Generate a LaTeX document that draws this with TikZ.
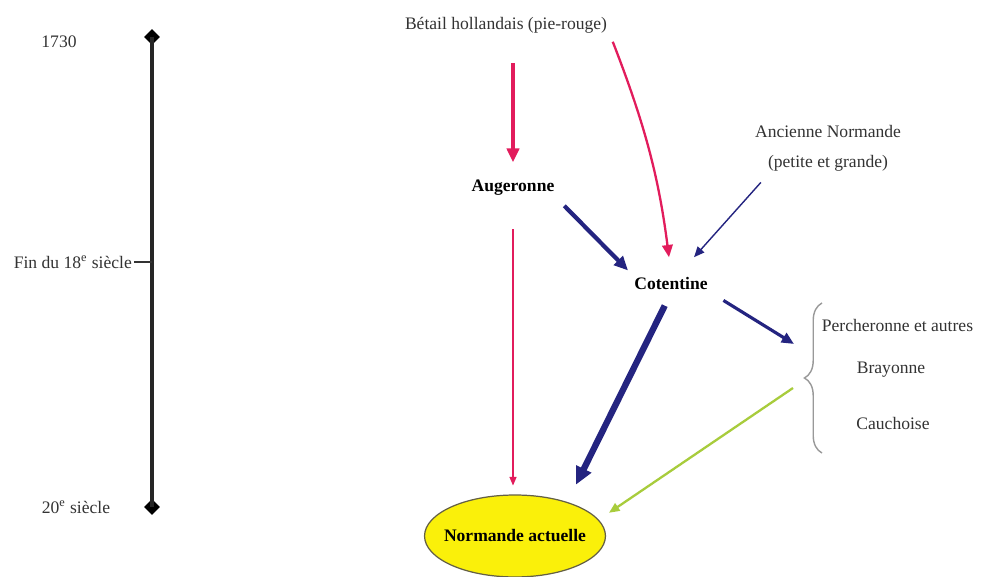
\documentclass[tikz,border=0pt]{standalone}
\usepackage{fontspec}
\setmainfont{Liberation Serif}
\usepackage{tikz}
\usetikzlibrary{shapes.geometric, arrows.meta, positioning, decorations.pathreplacing}
\definecolor{breedred}{RGB}{226,28,92}
\definecolor{breedblue}{RGB}{36,36,128}
\definecolor{breedgreen}{RGB}{168,204,60}
\definecolor{breedyellow}{RGB}{250,240,10}
\tikzset{
  % Breed labels
  breed/.style={font=\fontsize{10}{12}\selectfont, text=black!80, align=center, inner sep=2pt},
  breedbold/.style={breed, font=\fontsize{10}{12}\selectfont\bfseries, text=black},
  result/.style={ellipse, draw=black!70!yellow, fill=breedyellow, line width=0.7pt,
    inner xsep=-4pt, inner ysep=0pt, minimum width=3.6cm, minimum height=1.64cm,
    font=\fontsize{10}{12}\selectfont\bfseries},
  % Timeline
  timeline/.style={line width=2.2pt, black!85},
  tlend/.style={diamond, fill=black, inner sep=0pt, minimum size=9pt},
  tllabel/.style={font=\fontsize{10}{12}\selectfont, text=black!80, inner sep=1pt},
  % Lineage arrows (parameterized by colour)
  lineage/.style={-{Triangle[length=7pt, width=6pt]}, color=#1},
  bracket/.style={decorate, decoration={brace, amplitude=10pt}, gray!80, line width=0.8pt}
}
\begin{document}
\begin{tikzpicture}[x=0.02cm, y=-0.02cm]
  \useasboundingbox[fill=white] (0,0) rectangle (981,577);

  % Timeline
  \node[tlend] (tltop) at (152,37) {};
  \node[tlend] (tlbot) at (152,507) {};
  \coordinate (tlmid) at (152,262);
  \draw[timeline] (tltop.center) -- (tlbot.center);
  \node[tllabel] (y1730) at (59,42) {1730};
  \node[tllabel, anchor=east] (fin18) at (134,262) {Fin du 18\textsuperscript{e} siècle};
  \node[tllabel] (s20) at (76,507) {20\textsuperscript{e} siècle};
  \draw[black!80, line width=0.6pt] (fin18.east) -- (tlmid);

  % Breeds
  \node[breed] (betail) at (506,25) {Bétail hollandais (pie-rouge)};
  \node[breedbold] (augeronne) at (513,188) {Augeronne};
  \node[breedbold] (cotentine) at (671,283) {Cotentine};
  \node[breed] (ancienne) at (828,148) {Ancienne Normande\\[5pt](petite et grande)};
  \node[result] (normande) at (515,536) {Normande actuelle};

  % Local breeds with brace
  \node[breed, anchor=west] (percheronne) at (818,325) {Percheronne et autres};
  \node[breed] (brayonne) at (891,370) {Brayonne};
  \node[breed] (cauchoise) at (893,423) {Cauchoise};
  \coordinate (bracebot) at (822,453);
  \coordinate (bracetop) at (822,303);
  \draw[bracket] (bracebot) -- (bracetop);
  \coordinate (bracein) at (794,344);
  \coordinate (braceout) at (793,388);

  % Arrows
  \draw[lineage=breedred, line width=2.2pt, shorten <=15pt, shorten >=8pt,
    -{Triangle[length=8pt, width=7pt]}]
    (betail.south -| augeronne.north) -- (augeronne.north);
  \draw[lineage=breedred, line width=0.8pt, shorten <=17pt, shorten >=5pt,
    -{Triangle[length=5pt, width=4pt]}]
    (augeronne.south) -- (augeronne.south |- normande.north);
  \draw[lineage=breedred, line width=1.3pt, shorten <=3pt, shorten >=9pt]
    (betail.south east) to[bend left=7] (cotentine.north);
  \draw[lineage=breedblue, line width=2.4pt, shorten <=5pt, shorten >=2pt,
    -{Triangle[length=8pt, width=7pt]}]
    (augeronne.south east) -- (cotentine.north west);
  \draw[lineage=breedblue, line width=0.8pt, shorten <=2pt, shorten >=12pt,
    -{Triangle[length=6pt, width=5pt]}]
    (ancienne.south west) ++(12,5) -- (cotentine);
  \draw[lineage=breedblue, line width=1.8pt, shorten <=8pt]
    (cotentine.south east) -- (bracein);
  \draw[lineage=breedblue, line width=3.6pt, shorten <=8pt, shorten >=11pt,
    -{Triangle[length=10pt, width=9pt]}]
    (cotentine.south) -- (normande.33);
  \draw[lineage=breedgreen, line width=1.3pt, shorten >=7pt,
    -{Triangle[length=6pt, width=5pt]}]
    (braceout) -- (normande.11);
\end{tikzpicture}
\end{document}
